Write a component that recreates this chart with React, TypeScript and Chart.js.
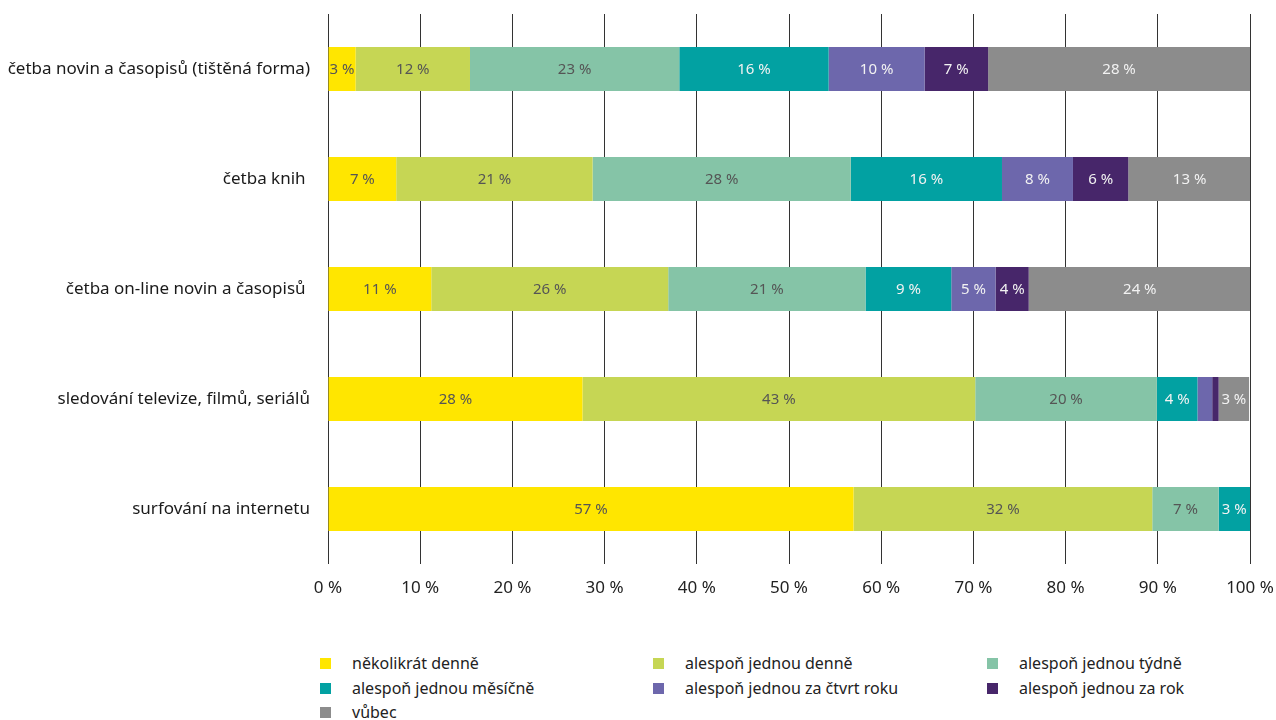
import React, { useEffect, useRef } from 'react';
import { Chart, registerables } from 'chart.js';

Chart.register(...registerables);

const categories = [
  'četba novin a časopisů (tištěná forma)',
  'četba knih ',
  'četba on-line novin a časopisů ',
  'sledování televize, filmů, seriálů',
  'surfování na internetu',
];

const seriesNames = [
  'několikrát denně',
  'alespoň jednou denně',
  'alespoň jednou týdně',
  'alespoň jednou měsíčně',
  'alespoň jednou za čtvrt roku',
  'alespoň jednou za rok',
  'vůbec',
];

const severalDaily = [3.0, 7.4, 11.2, 27.6, 57.0];
const onceDaily = [12.4, 21.3, 25.7, 42.6, 32.4];
const weekly = [22.7, 28.0, 21.4, 19.7, 7.2];
const monthly = [16.2, 16.4, 9.3, 4.4, 3.4];
const quarterly = [10.4, 7.7, 4.8, 1.6, 0];
const yearly = [6.9, 6.0, 3.6, 0.7, 0];
const never = [28.4, 13.3, 24.1, 3.3, 0];

const seriesValues = [severalDaily, onceDaily, weekly, monthly, quarterly, yearly, never];

const colors = ['#FFE600', '#C6D654', '#85C4A7', '#02A1A2', '#6D67AC', '#47266A', '#8C8C8C'];
const labelColors = ['#555555', '#555555', '#555555', '#F2F2F2', '#F2F2F2', '#F2F2F2', '#F2F2F2'];

const xTickValues = [0, 10, 20, 30, 40, 50, 60, 70, 80, 90, 100];

const FONT = "'Noto Sans', sans-serif";

const segmentLabels = {
  id: 'segmentLabels',
  afterDatasetsDraw(chart: any) {
    const ctx = chart.ctx;
    ctx.save();
    ctx.font = `15px ${FONT}`;
    ctx.textAlign = 'center';
    ctx.textBaseline = 'middle';
    chart.data.datasets.forEach((ds: any, di: number) => {
      const meta = chart.getDatasetMeta(di);
      meta.data.forEach((el: any, i: number) => {
        const v = ds.data[i];
        if (v < 2.5) return;
        const cx = (el.x + el.base) / 2;
        ctx.fillStyle = labelColors[di];
        ctx.fillText(`${Math.round(v)} %`, cx, el.y + 1);
      });
    });
    ctx.restore();
  },
};

function App() {
  const canvasRef = useRef<HTMLCanvasElement | null>(null);

  useEffect(() => {
    if (!canvasRef.current) return;
    const chart = new Chart(canvasRef.current, {
      type: 'bar',
      data: {
        labels: categories,
        datasets: seriesNames.map((name, i) => ({
          label: name,
          data: seriesValues[i],
          backgroundColor: colors[i],
          borderWidth: 0,
          categoryPercentage: 1,
          barPercentage: 0.4,
        })),
      },
      options: {
        indexAxis: 'y',
        animation: false,
        responsive: false,
        maintainAspectRatio: false,
        layout: { padding: { top: 14, right: 26, left: 0, bottom: 0 } },
        plugins: {
          legend: { display: false },
          tooltip: { enabled: false },
        },
        scales: {
          x: {
            stacked: true,
            min: 0,
            max: 100,
            afterBuildTicks: (scale: any) => {
              scale.ticks = xTickValues.map((v) => ({ value: v }));
            },
            afterFit: (scale: any) => {
              scale.height = 56;
            },
            grid: { color: '#333333', lineWidth: 1, drawTicks: true, tickLength: 14, tickColor: 'rgba(0,0,0,0)' },
            border: { display: false },
            ticks: {
              padding: 0,
              color: '#222222',
              font: { family: FONT, size: 17 },
              callback: (v: any) => `${v} %`,
              maxRotation: 0,
            },
          },
          y: {
            stacked: true,
            afterFit: (scale: any) => {
              scale.width = 328;
            },
            grid: { display: true, color: 'rgba(0,0,0,0)', drawTicks: true, tickLength: 18, tickColor: 'rgba(0,0,0,0)' },
            border: { display: false },
            ticks: {
              padding: 0,
              color: '#1a1a1a',
              font: { family: FONT, size: 17 },
            },
          },
        },
      },
      plugins: [segmentLabels],
    });
    return () => chart.destroy();
  }, []);

  const colX = [320, 653, 987];
  const rowY = [663, 688, 712];

  return (
    <div style={{ position: 'absolute', left: 0, top: 0, width: 1276, height: 720, background: '#fff', overflow: 'hidden' }}>
      <canvas ref={canvasRef} width={1276} height={620} style={{ position: 'absolute', left: 0, top: 0 }} />
      {seriesNames.map((name, i) => {
        const col = i % 3;
        const row = Math.floor(i / 3);
        return (
          <div
            key={name}
            style={{
              position: 'absolute',
              left: colX[col],
              top: rowY[row] - 11,
              height: 22,
              display: 'flex',
              alignItems: 'center',
              fontFamily: FONT,
              fontSize: 16,
              color: '#222',
              whiteSpace: 'nowrap',
            }}
          >
            <span style={{ display: 'inline-block', width: 11, height: 11, background: colors[i], marginRight: 21 }} />
            <span>{name}</span>
          </div>
        );
      })}
    </div>
  );
}

export default App;
